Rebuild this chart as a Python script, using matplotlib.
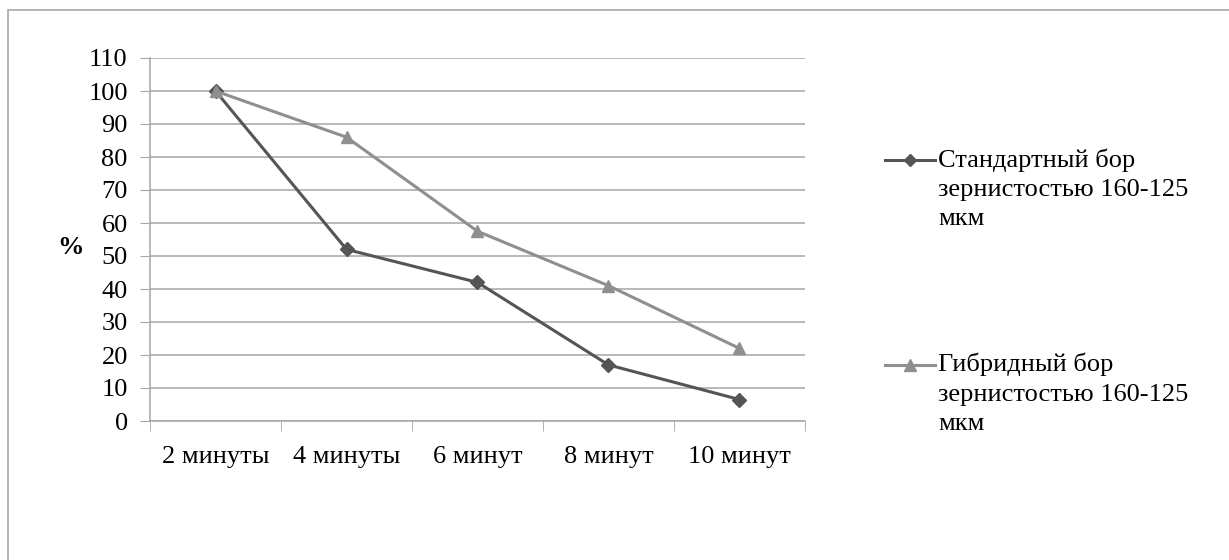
import matplotlib
matplotlib.use('Agg')
import matplotlib.pyplot as plt
from matplotlib.lines import Line2D
from matplotlib.patches import Rectangle

plt.rcParams['font.family'] = ['Liberation Serif', 'DejaVu Serif']

# data
categories = ['2 минуты', '4 минуты', '6 минут', '8 минут', '10 минут']
standard = [100, 52, 42, 17, 6.5]
hybrid = [100, 86, 57.5, 41, 22]
labels = ['Стандартный бор\nзернистостью 160-125\nмкм',
          'Гибридный бор\nзернистостью 160-125\nмкм']
yticks = list(range(0, 111, 10))

c_std = '#555555'
c_hyb = '#8f8f8f'
c_grid = '#a6a6a6'
fs = 19

fig = plt.figure(figsize=(12.29, 5.6), dpi=100)
fig.patches.append(Rectangle((8 / 1229, -0.1), 1.2, 1.1 - 10 / 560,
                             transform=fig.transFigure, fill=False,
                             edgecolor='#a8a8a8', linewidth=1.2))

ax = fig.add_axes([150 / 1229, 1 - 421 / 560, 655 / 1229, 363 / 560])
x = list(range(len(categories)))

ax.plot(x, standard, color=c_std, lw=2.2, marker='D', ms=7, zorder=3)
ax.plot(x, hybrid, color=c_hyb, lw=2.2, marker='^', ms=9, zorder=3)

ax.set_xlim(-0.5, len(categories) - 0.5)
ax.set_ylim(0, 110)
ax.set_yticks(yticks)
ax.set_yticklabels([str(v) for v in yticks])
ax.set_xticks(x)
ax.set_xticklabels(categories)
ax.set_xticks([i - 0.5 for i in range(len(categories) + 1)], minor=True)
ax.tick_params(axis='x', which='major', length=0, pad=18, labelsize=fs)
ax.tick_params(axis='x', which='minor', length=7, color=c_grid, direction='out')
ax.tick_params(axis='y', length=7, color=c_grid, direction='out', pad=9, labelsize=fs)

ax.grid(axis='y', color=c_grid, lw=1.1)
ax.set_axisbelow(True)
for s in ['top', 'right']:
    ax.spines[s].set_visible(False)
for s in ['left', 'bottom']:
    ax.spines[s].set_color(c_grid)
    ax.spines[s].set_linewidth(1.1)

fig.text(70 / 1229, 1 - 248 / 560, '%', fontsize=fs, fontweight='bold',
         ha='center', va='center')

# legend drawn by hand so the marker sits on the first text line
leg_y = [160, 365]
styles = [(c_std, 'D', 6), (c_hyb, '^', 8)]
for ly, lab, (c, m, ms) in zip(leg_y, labels, styles):
    yf = 1 - ly / 560
    fig.add_artist(Line2D([885 / 1229, 935 / 1229], [yf, yf], color=c, lw=2.2,
                          transform=fig.transFigure))
    fig.add_artist(Line2D([910 / 1229], [yf], color=c, marker=m, ms=ms,
                          transform=fig.transFigure))
    fig.text(938 / 1229, yf + 12 / 560, lab, fontsize=fs, ha='left', va='top',
             linespacing=1.42)

fig.savefig('out.png', dpi=100)
